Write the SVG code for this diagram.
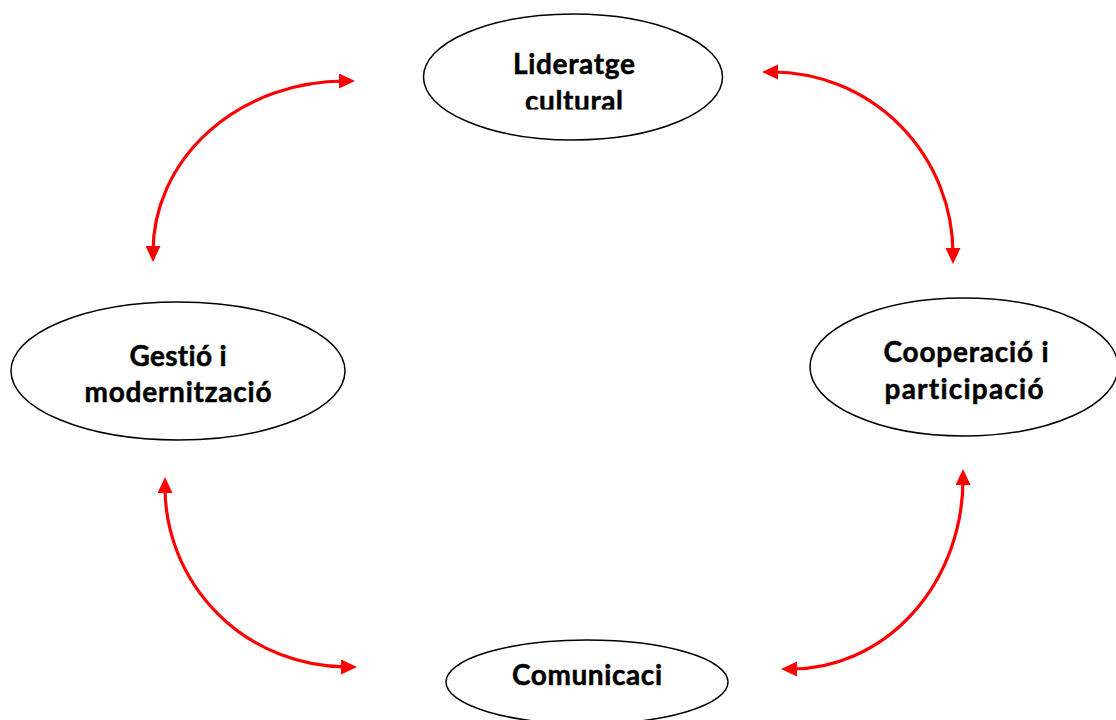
<svg xmlns="http://www.w3.org/2000/svg" width="1116" height="720" viewBox="0 0 1116 720">
<style>
.node ellipse{fill:#fff;stroke:#000;stroke-width:1.5}
.node text{font-family:Lato,"Open Sans",sans-serif;font-weight:bold;font-size:28px;fill:#000;text-anchor:middle;font-variant-ligatures:none;stroke:#000;stroke-width:0.5}
.conn path{fill:none;stroke:#ff0000;stroke-width:3.2;marker-start:url(#ah);marker-end:url(#ah)}
</style>
<defs>
<marker id="ah" markerUnits="userSpaceOnUse" markerWidth="18" markerHeight="16" refX="6" refY="7.5" orient="auto-start-reverse" viewBox="0 0 18 16">
<path d="M0,0 L16,7.5 L0,15 z" fill="#ff0000"/>
</marker>
<clipPath id="clipTop"><rect x="424" y="14" width="300" height="95.5"/></clipPath>
<clipPath id="clipBottom"><rect x="446" y="640" width="222" height="80"/></clipPath>
</defs>
<rect width="1116" height="720" fill="#fff"/>
<g class="conn" id="connectors">
<path d="M345,81 A192,171 0 0 0 153,252"/>
<path d="M772,72 A181,182 0 0 1 953,254"/>
<path d="M165,487 A182,180 0 0 0 347,667"/>
<path d="M963,479 A172,190 0 0 1 791,669"/>
</g>
<g class="node" id="n-lideratge">
<ellipse cx="573" cy="77" rx="149.5" ry="63"/>
<g clip-path="url(#clipTop)">
<text x="574" y="74" textLength="122">Lideratge</text>
<text x="574" y="111" textLength="98">cultural</text>
</g>
</g>
<g class="node" id="n-gestio">
<ellipse cx="178" cy="371" rx="167" ry="69"/>
<text x="178" y="366" textLength="97">Gestió i</text>
<text x="178" y="402" textLength="187">modernització</text>
</g>
<g class="node" id="n-cooperacio">
<ellipse cx="964" cy="367" rx="154" ry="69"/>
<text x="966" y="362" textLength="165">Cooperació i</text>
<text x="964" y="399" textLength="159">participació</text>
</g>
<g class="node" id="n-comunicacio">
<ellipse cx="587" cy="682" rx="141" ry="42"/>
<g clip-path="url(#clipBottom)">
<text x="587" y="685" textLength="150">Comunicaci</text>
</g>
</g>
</svg>
